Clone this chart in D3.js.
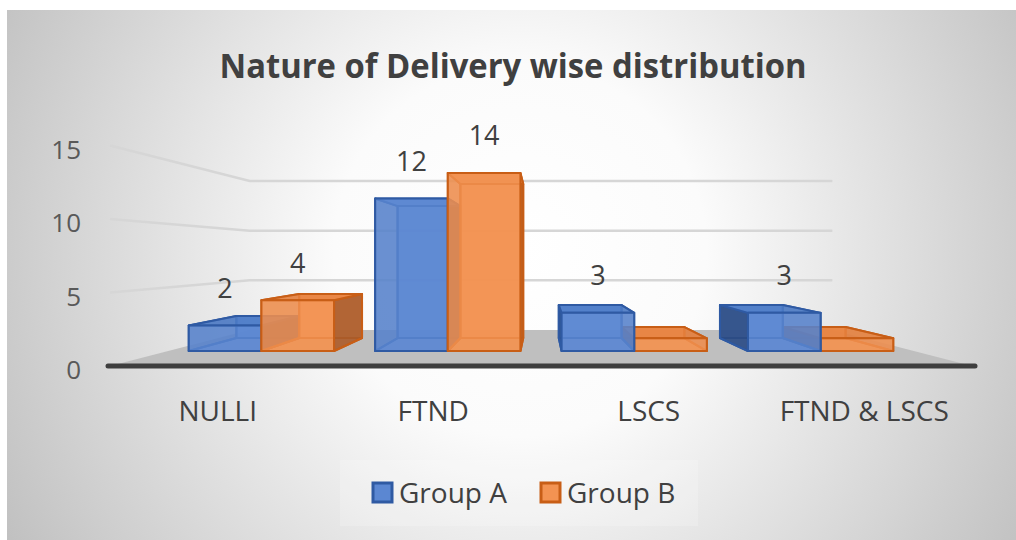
<!DOCTYPE html>
<html>
<head>
<meta charset="utf-8">
<script src="https://cdn.jsdelivr.net/npm/d3@7"></script>
<style>
  html, body { margin: 0; padding: 0; background: #fff; }
  text { font-family: "Open Sans", "Noto Sans", sans-serif; }
</style>
</head>
<body>
<div id="chart"></div>
<script>
// chart data
const categories = ["NULLI", "FTND", "LSCS", "FTND & LSCS"];
const series = ["Group A", "Group B"];
const groupA = [2, 12, 3, 3];
const groupB = [4, 14, 1, 1];
const labelsA = ["2", "12", "3", "3"];
const labelsB = ["4", "14", "", ""];
const yTicks = [0, 5, 10, 15];

const W = 1016, H = 540;

// fake 3d: vanishing point + depth factors (front of floor = 1)
const VX = 541, VY = 255;
const F_FRONT = 0.865, F_BACK = 0.748, F_WALL = 0.676;
const proj = (x, y, f) => [VX + (x - VX) * f, VY + (y - VY) * f];

const colors = {
  "Group A": { front: "#5b87d2", top: "#4e7cc8", side: "#2c4a80", stroke: "#2f5aa3" },
  "Group B": { front: "#f39352", top: "#e8823f", side: "#a65a2c", stroke: "#c85e16" }
};

const svg = d3.select("#chart").append("svg")
    .attr("width", W)
    .attr("height", H);

const defs = svg.append("defs");
const bg = defs.append("radialGradient")
    .attr("id", "bg")
    .attr("gradientUnits", "userSpaceOnUse")
    .attr("cx", 520).attr("cy", 250).attr("r", 620);
bg.append("stop").attr("offset", "0").attr("stop-color", "#ffffff");
bg.append("stop").attr("offset", "0.3").attr("stop-color", "#fbfbfb");
bg.append("stop").attr("offset", "1").attr("stop-color", "#bcbcbc");

svg.append("rect")
    .attr("x", 7).attr("y", 10)
    .attr("width", W - 7).attr("height", H - 10)
    .attr("fill", "url(#bg)");

// scales (front-plane coordinates)
const y = d3.scaleLinear().domain([0, 15]).range([366, 145.5]);
const x0 = d3.scaleBand().domain(categories).range([110, 972]);
const x1 = d3.scaleBand().domain(series).range([0, x0.bandwidth()]).paddingOuter(0.283);

const line = d3.line();

// title
svg.append("text")
    .attr("x", 513).attr("y", 78)
    .attr("text-anchor", "middle")
    .attr("font-size", 34)
    .attr("font-weight", "bold")
    .attr("fill", "#404040")
    .attr("textLength", 587)
    .attr("lengthAdjust", "spacingAndGlyphs")
    .text("Nature of Delivery wise distribution");

// gridlines on back wall and left wall
const grid = svg.append("g");
yTicks.filter(v => v > 0).forEach(v => {
  const [xl, xr] = x0.range();
  grid.append("path")
      .attr("d", line([proj(xl, y(v), 1), proj(xl, y(v), F_WALL), proj(xr, y(v), F_WALL)]))
      .attr("fill", "none")
      .attr("stroke", "#d6d6d6")
      .attr("stroke-width", 2.5);
});

// floor
const [fx0, fx1] = x0.range();
svg.append("path")
    .attr("d", line([proj(fx0, y(0), 1), proj(fx1, y(0), 1), proj(fx1, y(0), F_WALL), proj(fx0, y(0), F_WALL)]) + "Z")
    .attr("fill", "#bfbfbf");
svg.append("line")
    .attr("x1", fx0 - 2).attr("x2", fx1 + 3)
    .attr("y1", y(0)).attr("y2", y(0))
    .attr("stroke", "#3e3e3e")
    .attr("stroke-width", 5)
    .attr("stroke-linecap", "round");

// y axis labels
svg.append("g").selectAll("text")
    .data(yTicks)
    .enter().append("text")
    .attr("x", 81)
    .attr("y", d => y(d) + 4)
    .attr("dy", "0.35em")
    .attr("text-anchor", "end")
    .attr("font-size", 26)
    .attr("fill", "#595959")
    .text(d => d);

// category labels
svg.append("g").selectAll("text")
    .data(categories)
    .enter().append("text")
    .attr("x", d => x0(d) + x0.bandwidth() / 2)
    .attr("y", 421)
    .attr("text-anchor", "middle")
    .attr("font-size", 28)
    .attr("fill", "#404040")
    .text(d => d);

// bars as boxes
const bars = [];
categories.forEach((c, i) => {
  bars.push({ cat: c, s: "Group A", v: groupA[i], label: labelsA[i] });
  bars.push({ cat: c, s: "Group B", v: groupB[i], label: labelsB[i] });
});
bars.forEach(b => {
  b.xa = x0(b.cat) + x1(b.s);
  b.xb = b.xa + x1.bandwidth();
  b.mid = (b.xa + b.xb) / 2;
});
// paint far-from-centre bars first
bars.sort((a, b) => Math.abs(b.mid - VX) - Math.abs(a.mid - VX));

const barG = svg.append("g");
bars.forEach(b => {
  const col = colors[b.s];
  const yt = y(b.v), yb = y(0);
  const quad = (pts) => line(pts) + "Z";
  const face = (pts, fill, op) => barG.append("path")
      .attr("d", quad(pts))
      .attr("fill", fill)
      .attr("fill-opacity", op)
      .attr("stroke", col.stroke)
      .attr("stroke-width", 2)
      .attr("stroke-linejoin", "round");

  const leftSide = [proj(b.xa, yt, F_FRONT), proj(b.xa, yb, F_FRONT), proj(b.xa, yb, F_BACK), proj(b.xa, yt, F_BACK)];
  const rightSide = [proj(b.xb, yt, F_FRONT), proj(b.xb, yb, F_FRONT), proj(b.xb, yb, F_BACK), proj(b.xb, yt, F_BACK)];
  const visSide = b.mid < VX ? rightSide : leftSide;
  const hidSide = b.mid < VX ? leftSide : rightSide;

  face([proj(b.xa, yt, F_BACK), proj(b.xb, yt, F_BACK), proj(b.xb, yb, F_BACK), proj(b.xa, yb, F_BACK)], col.front, 0.85);
  face([proj(b.xa, yb, F_FRONT), proj(b.xb, yb, F_FRONT), proj(b.xb, yb, F_BACK), proj(b.xa, yb, F_BACK)], col.front, 0.6);
  face(hidSide, col.side, 0.4);
  face(visSide, col.side, 0.85);
  face([proj(b.xa, yt, F_FRONT), proj(b.xb, yt, F_FRONT), proj(b.xb, yt, F_BACK), proj(b.xa, yt, F_BACK)], col.top, 0.85);
  face([proj(b.xa, yt, F_FRONT), proj(b.xb, yt, F_FRONT), proj(b.xb, yb, F_FRONT), proj(b.xa, yb, F_FRONT)], col.front, 0.82);
});

// data labels
svg.append("g").selectAll("text")
    .data(bars.filter(b => b.label !== ""))
    .enter().append("text")
    .attr("x", d => proj(d.mid, y(d.v), F_FRONT)[0])
    .attr("y", d => proj(d.mid, y(d.v), F_FRONT)[1] - 37)
    .attr("dy", "0.35em")
    .attr("text-anchor", "middle")
    .attr("font-size", 27)
    .attr("fill", "#404040")
    .text(d => d.label);

// legend
const legend = svg.append("g");
legend.append("rect")
    .attr("x", 340).attr("y", 460)
    .attr("width", 358).attr("height", 66)
    .attr("fill", "#ffffff")
    .attr("fill-opacity", 0.2);
const legX = [373, 541];
series.forEach((s, i) => {
  legend.append("rect")
      .attr("x", legX[i]).attr("y", 483)
      .attr("width", 19).attr("height", 19)
      .attr("fill", colors[s].front)
      .attr("stroke", colors[s].stroke)
      .attr("stroke-width", 3);
  legend.append("text")
      .attr("x", legX[i] + 26).attr("y", 503)
      .attr("font-size", 28)
      .attr("fill", "#404040")
      .text(s);
});
</script>
</body>
</html>
